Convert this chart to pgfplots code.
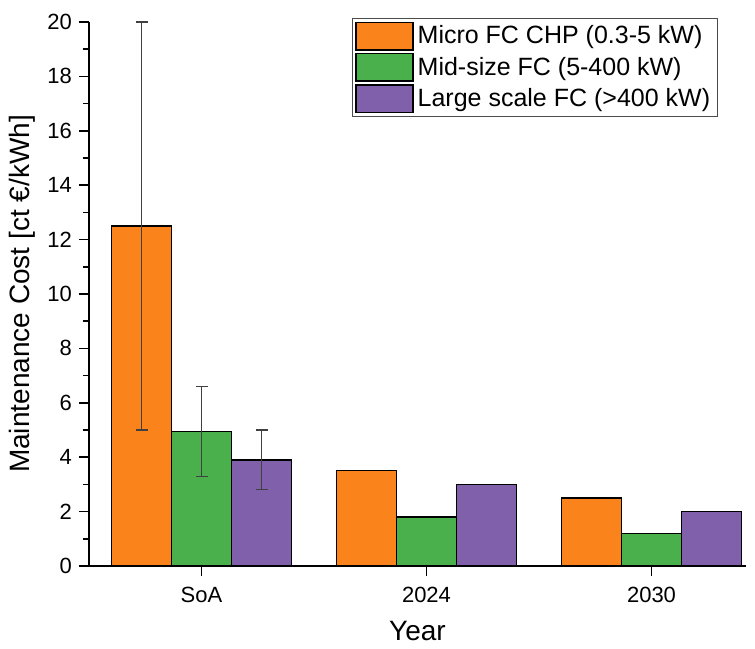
\documentclass[border=0pt]{standalone}
\usepackage{pgfplots}
\pgfplotsset{compat=1.18}
\usepackage{fontspec}
\setmainfont{Liberation Sans}
\definecolor{cOr}{RGB}{250,131,28}
\definecolor{cGr}{RGB}{74,176,76}
\definecolor{cPu}{RGB}{128,96,170}
\begin{document}
\begin{tikzpicture}
\begin{axis}[
  scale only axis,
  width=328.5pt, height=272pt,
  xmin=-0.5, xmax=2.42,
  ymin=0, ymax=20,
  ybar=0pt, bar width=30pt,
  axis lines*=left,
  axis line style={line width=1pt},
  xtick={0,1,2},
  xticklabels={SoA,2024,2030},
  ytick={0,2,...,20},
  minor ytick={1,3,...,19},
  tick align=outside,
  major tick length=5pt,
  minor tick length=3pt,
  tick style={line width=0.8pt, black},
  /pgf/number format/assume math mode=true,
  tick label style={font=\fontsize{11}{13}\selectfont},
  x tick label style={yshift=-2pt},
  label style={font=\fontsize{14}{16}\selectfont},
  xlabel={Year},
  ylabel={Maintenance Cost [ct €/kWh]},
  ylabel style={yshift=-1pt},
  xlabel style={yshift=-2.5pt},
  legend style={at={(0.957,1.007)}, anchor=north east, font=\fontsize{12.5}{14}\selectfont,
    draw=black!70, line width=0.6pt, inner sep=1.5pt, row sep=1pt, cells={anchor=west}},
  legend image code/.code={\draw[#1,draw=black,line width=0.6pt] (0pt,-6.8pt) rectangle (28.5pt,6.8pt);},
  every axis plot/.append style={draw=black, line width=0.6pt},
  error bars/error bar style={line width=0.6pt, draw=black!75},
  error bars/error mark options={rotate=90, mark size=3pt, line width=0.6pt, draw=black!75},
]
\addplot[fill=cOr, bar shift=-30pt] coordinates {(0,12.5) (1,3.5) (2,2.5)};
\addplot[fill=cGr, bar shift=0pt] coordinates {(0,4.95) (1,1.8) (2,1.2)};
\addplot[fill=cPu, bar shift=30pt] coordinates {(0,3.9) (1,3.0) (2,2.0)};
\legend{Micro FC CHP (0.3-5 kW), Mid-size FC (5-400 kW), Large scale FC (>400 kW)}
% error bars for the SoA group only
\addplot[forget plot, draw=none, fill=none, bar shift=-30pt, error bars/.cd, y dir=both, y explicit] coordinates {(0,12.5) +- (0,7.5)};
\addplot[forget plot, draw=none, fill=none, bar shift=0pt, error bars/.cd, y dir=both, y explicit] coordinates {(0,4.95) +- (0,1.65)};
\addplot[forget plot, draw=none, fill=none, bar shift=30pt, error bars/.cd, y dir=both, y explicit] coordinates {(0,3.9) +- (0,1.1)};
\end{axis}
\pgfresetboundingbox
\path ([shift={(-44.5pt,-41.5pt)}]current axis.south west) rectangle ([shift={(4.5pt,11pt)}]current axis.north east);
\end{tikzpicture}
\end{document}
